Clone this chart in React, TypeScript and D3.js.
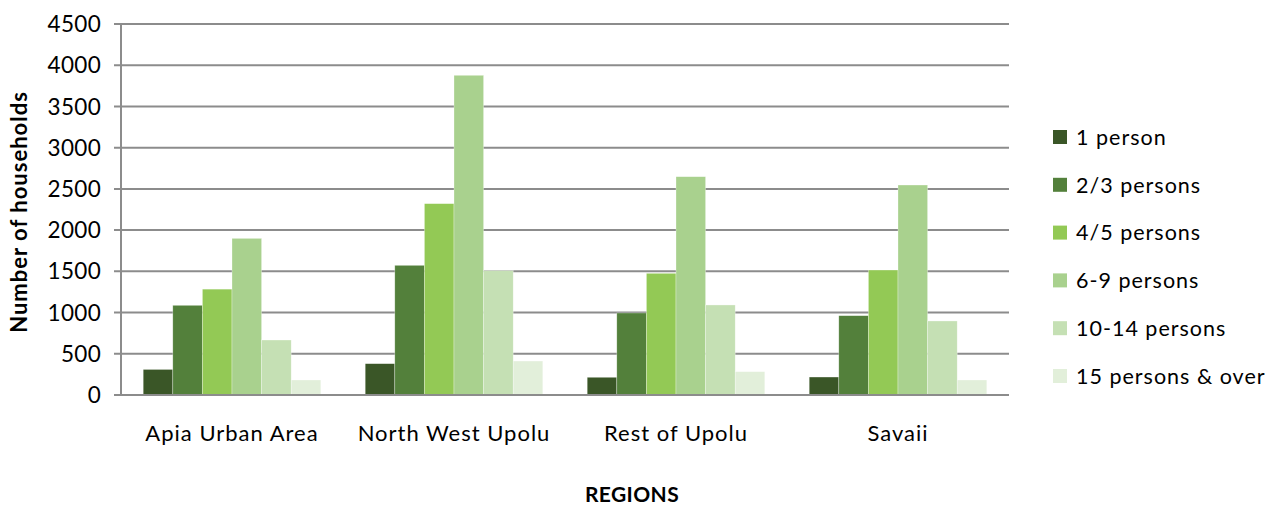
import React from "react";
import * as d3 from "d3";

const categories = ["Apia Urban Area", "North West Upolu", "Rest of Upolu", "Savaii"];
const seriesNames = ["1 person", "2/3 persons", "4/5 persons", "6-9 persons", "10-14 persons", "15 persons & over"];
const onePerson = [310, 380, 215, 218];
const twoThree = [1088, 1573, 995, 962];
const fourFive = [1284, 2321, 1476, 1516];
const sixNine = [1900, 3878, 2648, 2547];
const tenFourteen = [667, 1508, 1092, 898];
const fifteenOver = [182, 412, 283, 182];
const yTicks = [0, 500, 1000, 1500, 2000, 2500, 3000, 3500, 4000, 4500];
const colors = ["#3a5627", "#53803b", "#93c955", "#a9d18e", "#c5e0b4", "#e2efda"];

const seriesValues = [onePerson, twoThree, fourFive, sixNine, tenFourteen, fifteenOver];

const W = 1274;
const H = 509;
const left = 121;
const right = 1009;
const top = 24;
const bottom = 395;
const font = "Lato, 'Open Sans', sans-serif";

export default function App() {
  const x0 = d3.scaleBand<string>().domain(categories).range([left, right]).paddingInner(0.2).paddingOuter(0.1);
  // Excel gap width 150%: 6 bars + 1.5 gap per category
  const band = (right - left) / categories.length;
  const barW = band / 7.5;
  const groupX = (i: number) => left + band * i + barW * 0.75;
  const x1 = d3.scaleBand<number>().domain(d3.range(seriesNames.length)).range([0, barW * 6]).padding(0);
  const y = d3.scaleLinear().domain([0, 4500]).range([bottom, top]);

  return (
    <svg width={W} height={H} style={{ display: "block", position: "absolute", left: 0, top: 0 }} fontFamily={font}>
      <rect width={W} height={H} fill="#fff" />
      {yTicks.map((t) => (
        <g key={t}>
          <line x1={left - 7} x2={right} y1={y(t)} y2={y(t)} stroke="#8c8c8c" strokeWidth={2} />
          <text x={101} y={y(t)} dy="0.36em" textAnchor="end" fontSize={22.5} fill="#000" letterSpacing={0.3}>
            {t}
          </text>
        </g>
      ))}
      <line x1={left} x2={left} y1={top} y2={bottom} stroke="#8c8c8c" strokeWidth={2} />
      {categories.map((c, ci) => (
        <g key={c}>
          {seriesValues.map((vals, si) => (
            <rect
              key={si}
              x={groupX(ci) + (x1(si) as number)}
              y={y(vals[ci])}
              width={x1.bandwidth()}
              height={bottom - y(vals[ci])}
              fill={colors[si]}
              stroke="#ffffff"
              strokeOpacity={0.5}
              strokeWidth={0.6}
            />
          ))}
          <text x={(x0(c) as number) + x0.bandwidth() / 2} y={441} textAnchor="middle" fontSize={22} fill="#000" letterSpacing={1}>
            {c}
          </text>
        </g>
      ))}
      <line x1={left} x2={right} y1={bottom} y2={bottom} stroke="#8c8c8c" strokeWidth={2} />
      <text x={632} y={502} textAnchor="middle" fontSize={21} fontWeight="bold" fill="#000" letterSpacing={0.4}>
        REGIONS
      </text>
      <text transform={`translate(27, 212) rotate(-90)`} textAnchor="middle" fontSize={22} fontWeight="bold" fill="#000" letterSpacing={1}>
        Number of households
      </text>
      {seriesNames.map((s, i) => {
        const ly = 137 + i * 47.8;
        return (
          <g key={s}>
            <rect x={1053} y={ly - 7} width={14} height={14} fill={colors[i]} />
            <text x={1076} y={ly} dy="0.36em" fontSize={21.5} fill="#000" letterSpacing={1}>
              {s}
            </text>
          </g>
        );
      })}
    </svg>
  );
}
